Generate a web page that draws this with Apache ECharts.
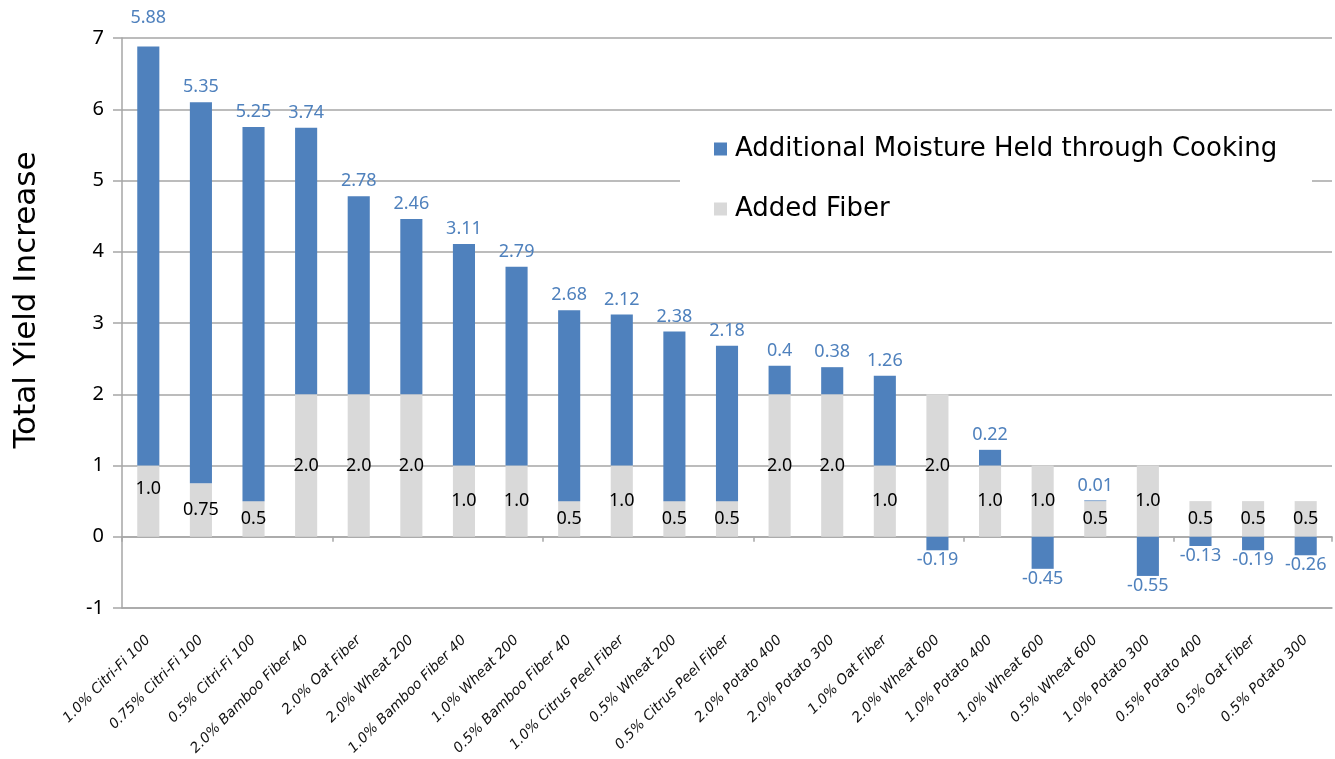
<!DOCTYPE html>
<html>
<head>
<meta charset="utf-8">
<script src="https://cdn.jsdelivr.net/npm/echarts@6/dist/echarts.min.js"></script>
<style>
html,body{margin:0;padding:0;background:#fff;}
#chart{width:1335px;height:759px;}
</style>
</head>
<body>
<div id="chart"></div>
<script>
const categories = [
  '1.0% Citri-Fi 100', '0.75% Citri-Fi 100', '0.5% Citri-Fi 100', '2.0% Bamboo Fiber 40',
  '2.0% Oat Fiber', '2.0% Wheat 200', '1.0% Bamboo Fiber 40', '1.0% Wheat 200',
  '0.5% Bamboo Fiber 40', '1.0% Citrus Peel Fiber', '0.5% Wheat 200', '0.5% Citrus Peel Fiber',
  '2.0% Potato 400', '2.0% Potato 300', '1.0% Oat Fiber', '2.0% Wheat 600',
  '1.0% Potato 400', '1.0% Wheat 600', '0.5% Wheat 600', '1.0% Potato 300',
  '0.5% Potato 400', '0.5% Oat Fiber', '0.5% Potato 300'
];
const fiber = [1.0, 0.75, 0.5, 2.0, 2.0, 2.0, 1.0, 1.0, 0.5, 1.0, 0.5, 0.5, 2.0, 2.0, 1.0, 2.0, 1.0, 1.0, 0.5, 1.0, 0.5, 0.5, 0.5];
const moisture = [5.88, 5.35, 5.25, 3.74, 2.78, 2.46, 3.11, 2.79, 2.68, 2.12, 2.38, 2.18, 0.4, 0.38, 1.26, -0.19, 0.22, -0.45, 0.01, -0.55, -0.13, -0.19, -0.26];
const yTicks = { min: -1, max: 7, interval: 1 };
const seriesNames = ['Additional Moisture Held through Cooking', 'Added Fiber'];

const BLUE = '#4F81BD', GRAY = '#D9D9D9', LINE = '#A6A6A6';
const gothic = '"DejaVu Sans", sans-serif';
const calibri = '"Noto Sans", sans-serif';

function fiberText(v) {
  const s = String(v);
  return s.indexOf('.') >= 0 ? s : v.toFixed(1);
}
// manual label nudges (style only)
const moistLabelOffset = { 0: [0, -14] };
const fiberLabelOffset = { 0: [0, -12] };

const fiberData = fiber.map((v, i) => ({
  value: v,
  label: { offset: fiberLabelOffset[i] || [0, 0] }
}));
const moistData = moisture.map((v, i) => ({
  value: v,
  label: {
    position: v < 0 ? 'bottom' : 'top',
    distance: v < 0 ? 1 : 6,
    offset: moistLabelOffset[i] || [0, 0]
  }
}));

const chart = echarts.init(document.getElementById('chart'), null, { renderer: 'canvas' });
chart.setOption({
  animation: false,
  backgroundColor: '#fff',
  grid: { left: 122, right: 3, top: 38, bottom: 151, containLabel: false },
  graphic: [{
    type: 'rect', z: 3,
    shape: { x: 680, y: 116, width: 632, height: 124 },
    style: { fill: '#fff' }
  }],
  legend: {
    orient: 'vertical',
    left: 709, top: 129,
    data: seriesNames,
    icon: 'rect', itemWidth: 13, itemHeight: 13,
    itemGap: 30,
    z: 5,
    textStyle: { fontFamily: gothic, fontSize: 26, color: '#000', lineHeight: 30, padding: [0, 0, 0, 3] }
  },
  xAxis: [{
    type: 'category',
    data: categories,
    position: 'bottom',
    axisLine: { onZero: false, show: true, lineStyle: { color: LINE, width: 1.5 } },
    axisTick: { show: false },
    axisLabel: { interval: 0, rotate: 45, margin: 30, fontFamily: gothic, fontSize: 14, fontStyle: 'italic', color: '#111' }
  }, {
    type: 'category',
    data: categories,
    position: 'bottom',
    axisLine: { onZero: true, show: true, lineStyle: { color: LINE, width: 1.5 } },
    axisTick: { show: true, alignWithLabel: false, length: 5, lineStyle: { color: LINE, width: 1.5 } },
    axisLabel: { show: false },
    splitLine: { show: false }
  }],
  yAxis: {
    type: 'value',
    min: yTicks.min, max: yTicks.max, interval: yTicks.interval,
    name: 'Total Yield Increase',
    nameLocation: 'middle',
    nameGap: 80,
    nameTextStyle: { fontFamily: gothic, fontSize: 31, color: '#000', padding: [0, 0, 0, 46] },
    axisLine: { show: true, lineStyle: { color: LINE, width: 1.5 } },
    axisTick: { show: true, length: 9, lineStyle: { color: LINE, width: 1.5 } },
    axisLabel: { margin: 18, fontFamily: calibri, fontSize: 20, color: '#000' },
    splitLine: { show: true, lineStyle: { color: LINE, width: 1.5 } }
  },
  series: [{
    name: seriesNames[1],
    type: 'bar',
    stack: 'total',
    xAxisIndex: 0,
    barWidth: '42%',
    itemStyle: { color: GRAY },
    label: {
      show: true, position: 'inside', color: '#000',
      fontFamily: calibri, fontSize: 18,
      formatter: p => fiberText(p.value)
    },
    data: fiberData
  }, {
    name: seriesNames[0],
    type: 'bar',
    stack: 'total',
    xAxisIndex: 0,
    barWidth: '42%',
    itemStyle: { color: BLUE },
    label: {
      show: true, color: BLUE,
      fontFamily: calibri, fontSize: 18,
      formatter: p => String(p.value)
    },
    data: moistData
  }]
});
</script>
</body>
</html>
